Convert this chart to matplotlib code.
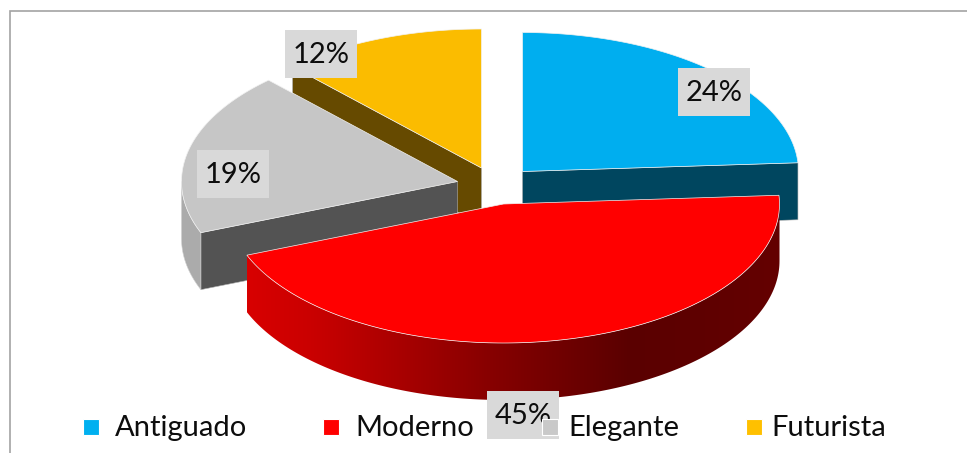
import numpy as np
import matplotlib
matplotlib.use("Agg")
import matplotlib.pyplot as plt
from matplotlib.patches import Polygon, Rectangle
from matplotlib.colors import LinearSegmentedColormap

# --- data ---
categories = ["Antiguado", "Moderno", "Elegante", "Futurista"]
percent_values = [24, 45, 19, 12]

# --- style / layout ---
plt.rcParams["font.family"] = ["Lato", "DejaVu Sans"]
W, H = 967, 453
RX, RY, DEPTH = 276, 139, 57
CENTERS = [(522.5, 171.5), (503.5, 204), (457.5, 181.5), (481.5, 168)]
FACE = ["#00aeef", "#ff0000", "#c6c6c6", "#fbbc00"]
WALL = ["#00465f", "#660000", "#535353", "#664a00"]
LEGEND_FACE = ["#00b0f0", "#ff0000", "#c9c9c9", "#ffc000"]
LABEL_BOX = [(678, 68), (487, 391), (197, 150), (285, 30)]
LEGEND_BOX_X = [83, 323, 542, 746]
LEGEND_TEXT_X = [115, 355, 568, 771]
BOX_W, BOX_H = 72, 48
FONT = 21

fig = plt.figure(figsize=(W / 100, H / 100), dpi=100)
ax = fig.add_axes([0, 0, 1, 1])
ax.set_xlim(0, W)
ax.set_ylim(H, 0)
ax.axis("off")


def arc(c, t0, t1, dy=0.0, n=160):
    t = np.radians(np.linspace(t0, t1, n))
    return np.column_stack([c[0] + RX * np.sin(t), c[1] + dy - RY * np.cos(t)])


def radial_wall(c, t, color, z):
    p = arc(c, t, t, n=1)[0]
    pts = [c, p, (p[0], p[1] + DEPTH), (c[0], c[1] + DEPTH)]
    ax.add_patch(Polygon(pts, closed=True, fc=color, ec="#b0b0b0", lw=0.4, zorder=z))


def outer_wall(c, t0, t1):
    a = arc(c, t0, t1)
    b = arc(c, t0, t1, dy=DEPTH)[::-1]
    return np.vstack([a, b])


def face(c, t0, t1, color, z):
    pts = np.vstack([[c], arc(c, t0, t1)])
    ax.add_patch(Polygon(pts, closed=True, fc=color, ec="#f2f2f2", lw=0.5, zorder=z))


ends = np.cumsum(percent_values) / np.sum(percent_values) * 360.0
starts = np.concatenate([[0.0], ends[:-1]])

# frame
ax.plot([9.5, 9.5, W], [H, 10.5, 10.5], color="#a3a3a3", lw=1.2, zorder=1,
        solid_joinstyle="miter")

# Futurista
radial_wall(CENTERS[3], starts[3], WALL[3], 2)
face(CENTERS[3], starts[3], ends[3], FACE[3], 3)

# Elegante
radial_wall(CENTERS[2], starts[2], WALL[2], 4)
ax.add_patch(Polygon(outer_wall(CENTERS[2], starts[2], 270), closed=True,
                     fc="#ababab", ec="#d0d0d0", lw=0.4, zorder=4))
face(CENTERS[2], starts[2], ends[2], FACE[2], 5)

# Antiguado
radial_wall(CENTERS[0], ends[0], WALL[0], 6)
face(CENTERS[0], starts[0], ends[0], FACE[0], 7)

# Moderno: curved wall with a horizontal shade
red_wall = outer_wall(CENTERS[1], max(starts[1], 90.0), ends[1])
cmap = LinearSegmentedColormap.from_list(
    "side",
    [(0.00, "#d80000"), (0.12, "#ca0000"), (0.45, "#880000"),
     (0.72, "#5a0000"), (1.00, "#640000")],
)
x0, x1 = red_wall[:, 0].min(), red_wall[:, 0].max()
y0, y1 = red_wall[:, 1].min(), red_wall[:, 1].max()
im = ax.imshow(np.linspace(0, 1, 256)[None, :], cmap=cmap, aspect="auto",
               extent=[x0, x1, y1, y0], zorder=8, interpolation="bilinear")
clip = Polygon(red_wall, closed=True, fc="none", ec="none", transform=ax.transData)
ax.add_patch(clip)
im.set_clip_path(clip)
ax.set_xlim(0, W)
ax.set_ylim(H, 0)
face(CENTERS[1], starts[1], ends[1], FACE[1], 9)

# data labels
for v, (bx, by) in zip(percent_values, LABEL_BOX):
    ax.add_patch(Rectangle((bx, by), BOX_W, BOX_H, fc="#d9d9d9", ec="none", zorder=10))
    ax.text(bx + BOX_W / 2, by + BOX_H / 2 + 1, f"{v}%", ha="center", va="center",
            fontsize=FONT, color="#0d0d0d", zorder=11)

# legend
for name, col, bx, tx in zip(categories, LEGEND_FACE, LEGEND_BOX_X, LEGEND_TEXT_X):
    ax.add_patch(Rectangle((bx, 419), 16, 16, fc=col, ec="white", lw=0.8, zorder=12))
    ax.text(tx, 428, name, ha="left", va="center", fontsize=FONT, color="#0d0d0d", zorder=12)

fig.savefig("out.png", dpi=100, facecolor="white")
